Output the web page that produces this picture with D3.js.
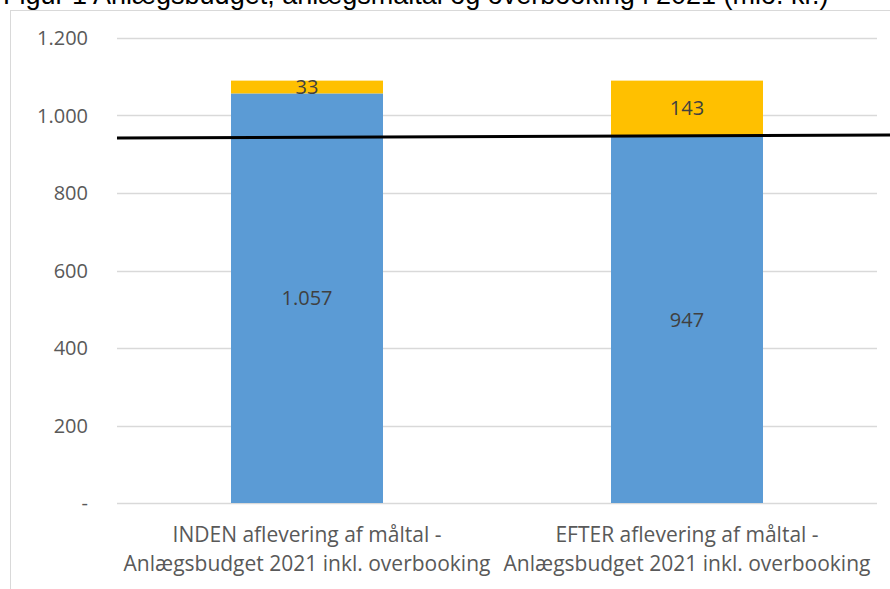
<!DOCTYPE html>
<html>
<head>
<meta charset="utf-8">
<script src="https://cdn.jsdelivr.net/npm/d3@7"></script>
<style>
  body { margin: 0; background: #fff; overflow: hidden; }
  text { font-family: "Open Sans", Lato, sans-serif; }
</style>
</head>
<body>
<svg width="890" height="589"></svg>
<script>
var categories = [
  ["INDEN aflevering af måltal -", "Anlægsbudget 2021 inkl. overbooking"],
  ["EFTER aflevering af måltal -", "Anlægsbudget 2021 inkl. overbooking"]
];
var budget = [1057, 947];
var overbooking = [33, 143];
var maaltal = [942, 950];
var yTicks = [0, 200, 400, 600, 800, 1000, 1200];
var title = "Figur 1 Anlægsbudget, anlægsmåltal og overbooking i 2021 (mio. kr.)";

var svg = d3.select("svg"),
    margin = {top: 38, right: 13, bottom: 86, left: 117},
    width = +svg.attr("width") - margin.left - margin.right,
    height = +svg.attr("height") - margin.top - margin.bottom;

var fmt = function(v){
  if (v === 0) return "-";
  return d3.format(",")(v).replace(/,/g, ".");
};

// title is cut off at the top in the original too
svg.append("text")
    .attr("x", 3)
    .attr("y", 4)
    .style("font-family", "'Liberation Sans', Arial, sans-serif")
    .style("font-size", "27px")
    .attr("fill", "#000")
    .text(title);

svg.append("rect")
    .attr("x", 10.5)
    .attr("y", 10.5)
    .attr("width", 900)
    .attr("height", 600)
    .attr("fill", "none")
    .attr("stroke", "#d9d9d9");

var x = d3.scaleBand().domain(d3.range(categories.length)).range([0, width])
    .paddingInner(0.6).paddingOuter(0.3);
var y = d3.scaleLinear().domain([0, 1200]).range([height, 0]);

var g = svg.append("g")
    .attr("transform", "translate(" + margin.left + "," + margin.top + ")");

g.selectAll(".grid").data(yTicks).enter().append("line")
    .attr("class", "grid")
    .attr("x1", 0)
    .attr("x2", width)
    .attr("y1", function(d){return Math.round(y(d)) + 0.5;})
    .attr("y2", function(d){return Math.round(y(d)) + 0.5;})
    .attr("stroke", "#d9d9d9")
    .attr("stroke-width", 1.5);

g.selectAll(".ytick").data(yTicks).enter().append("text")
    .attr("class", "ytick")
    .attr("x", -29)
    .attr("y", function(d){return y(d);})
    .attr("dy", "0.35em")
    .attr("text-anchor", "end")
    .attr("fill", "#595959")
    .style("font-size", "20px")
    .text(fmt);

var stacks = categories.map(function(c, i){
  return {i: i, b: budget[i], o: overbooking[i]};
});

g.selectAll(".bar-b").data(stacks).enter().append("rect")
    .attr("x", function(d){return x(d.i);})
    .attr("y", function(d){return y(d.b);})
    .attr("width", x.bandwidth())
    .attr("height", function(d){return height - y(d.b);})
    .attr("fill", "#5b9bd5");

g.selectAll(".bar-o").data(stacks).enter().append("rect")
    .attr("x", function(d){return x(d.i);})
    .attr("y", function(d){return y(d.b + d.o);})
    .attr("width", x.bandwidth())
    .attr("height", function(d){return y(d.b) - y(d.b + d.o);})
    .attr("fill", "#ffc000");

g.selectAll(".lab-b").data(stacks).enter().append("text")
    .attr("x", function(d){return x(d.i) + x.bandwidth()/2;})
    .attr("y", function(d){return (y(0) + y(d.b))/2;})
    .attr("dy", "0.35em")
    .attr("text-anchor", "middle")
    .attr("fill", "#404040")
    .style("font-size", "20px")
    .text(function(d){return fmt(d.b);});

g.selectAll(".lab-o").data(stacks).enter().append("text")
    .attr("x", function(d){return x(d.i) + x.bandwidth()/2;})
    .attr("y", function(d){return (y(d.b) + y(d.b + d.o))/2;})
    .attr("dy", "0.35em")
    .attr("text-anchor", "middle")
    .attr("fill", "#404040")
    .style("font-size", "20px")
    .text(function(d){return fmt(d.o);});

// category labels, two lines each
g.selectAll(".xlab").data(categories).enter().append("text")
    .attr("text-anchor", "middle")
    .attr("fill", "#595959")
    .style("font-size", "21px")
    .attr("transform", function(d, i){
      return "translate(" + (x(i) + x.bandwidth()/2) + "," + (height + 32) + ")";
    })
    .selectAll("tspan").data(function(d){return d;}).enter().append("tspan")
    .attr("x", 0)
    .attr("dy", function(d, j){return j === 0 ? "0.35em" : "1.35em";})
    .text(function(d){return d;});

// måltal line, runs past the plot area to the right edge
g.append("line")
    .attr("x1", 0)
    .attr("x2", width + margin.right)
    .attr("y1", y(maaltal[0]))
    .attr("y2", y(maaltal[1]))
    .attr("stroke", "#000")
    .attr("stroke-width", 3);
</script>
</body>
</html>
